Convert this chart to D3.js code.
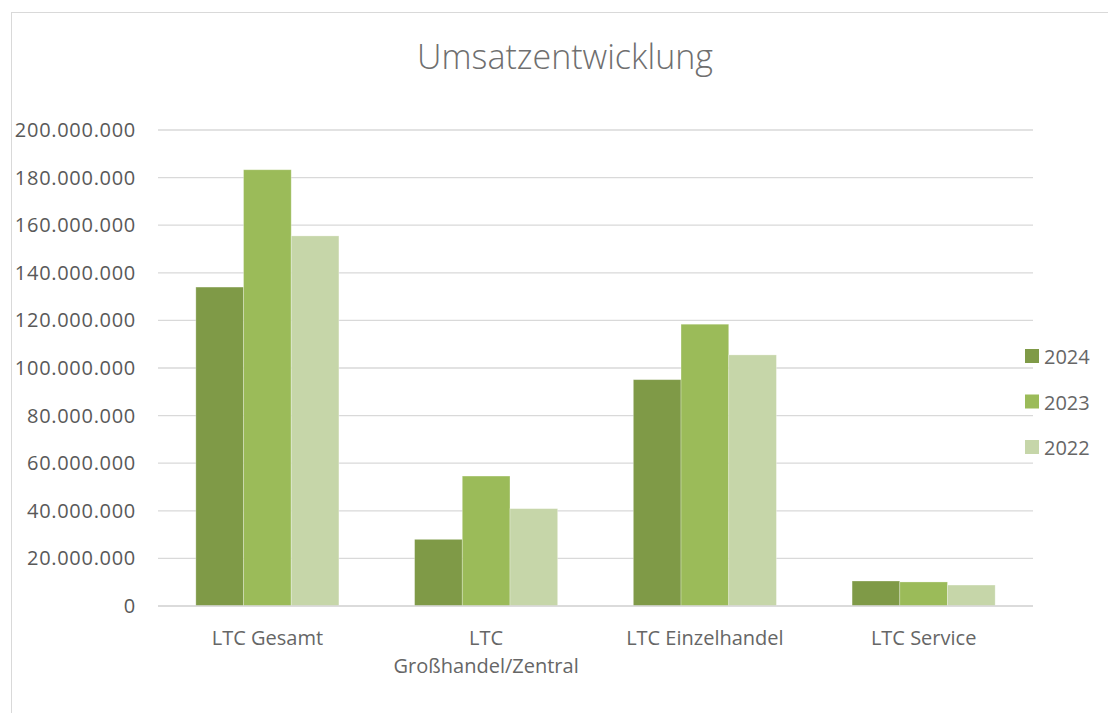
<!DOCTYPE html>
<html>
<head>
<meta charset="utf-8">
<script src="https://cdn.jsdelivr.net/npm/d3@7"></script>
<style>
  body { margin: 0; background: #fff; }
  text { font-family: "Open Sans", sans-serif; fill: #595959; }
</style>
</head>
<body>
<div class="chart"></div>
<script>
var svgWidth = 1108;
var svgHeight = 713;

// data
var categories = [["LTC Gesamt"], ["LTC", "Großhandel/Zentral"], ["LTC Einzelhandel"], ["LTC Service"]];
var years = ["2024", "2023", "2022"];
var values2024 = [134000000, 28000000, 95100000, 10500000];
var values2023 = [183300000, 54600000, 118400000, 10100000];
var values2022 = [155500000, 40900000, 105500000, 8800000];
var yTicks = [0, 20000000, 40000000, 60000000, 80000000, 100000000, 120000000, 140000000, 160000000, 180000000, 200000000];

var colors = {"2024": "#7f9a47", "2023": "#9bbb59", "2022": "#c6d6a9"};
var series = {"2024": values2024, "2023": values2023, "2022": values2022};

var margin = {top: 130, right: 75, bottom: 107, left: 158};
var width = svgWidth - margin.left - margin.right;
var height = svgHeight - margin.top - margin.bottom;

var svg = d3.select(".chart")
  .append("svg")
  .attr("width", svgWidth)
  .attr("height", svgHeight);

// chart frame
svg.append("rect")
  .attr("x", 11.5).attr("y", 12.5)
  .attr("width", 1120).attr("height", 720)
  .attr("fill", "none")
  .attr("stroke", "#d9d9d9");

svg.append("text")
  .attr("x", 565).attr("y", 69)
  .attr("text-anchor", "middle")
  .style("font-size", "34px")
  .style("font-weight", 300)
  .style("fill", "#6f6f6f")
  .text("Umsatzentwicklung");

var chartGroup = svg.append("g")
  .attr("transform", `translate(${margin.left}, ${margin.top})`);

var x0 = d3.scaleBand()
  .domain(d3.range(categories.length))
  .range([0, width])
  .paddingInner(0.346)
  .paddingOuter(0.173);

var x1 = d3.scaleBand()
  .domain(years)
  .range([0, x0.bandwidth()]);

var y = d3.scaleLinear()
  .domain([0, 200000000])
  .range([height, 0]);

var fmt = d3.formatLocale({decimal: ",", thousands: ".", grouping: [3], currency: ["", "€"]}).format(",d");

// gridlines
chartGroup.selectAll(".grid")
  .data(yTicks)
  .enter()
  .append("line")
  .attr("x1", 0).attr("x2", width)
  .attr("y1", d => y(d)).attr("y2", d => y(d))
  .attr("stroke", "#d9d9d9")
  .attr("stroke-width", 1.3);

// y axis labels
var leftAxis = d3.axisLeft(y).tickValues(yTicks).tickFormat(fmt).tickSize(0).tickPadding(22);
var yAxis = chartGroup.append("g").call(leftAxis);
yAxis.select(".domain").remove();
yAxis.selectAll("text")
  .style("font-size", "20px")
  .style("letter-spacing", "0.7px")
  .style("font-family", "'Open Sans', sans-serif")
  .attr("fill", "#666");

// bars
var groups = chartGroup.selectAll(".cat")
  .data(categories.map((c, i) => i))
  .enter()
  .append("g")
  .attr("transform", d => `translate(${x0(d)}, 0)`);

groups.selectAll("rect")
  .data(i => years.map(yr => ({year: yr, value: series[yr][i]})))
  .enter()
  .append("rect")
  .attr("x", d => x1(d.year))
  .attr("y", d => y(d.value))
  .attr("width", x1.bandwidth())
  .attr("height", d => height - y(d.value))
  .attr("fill", d => colors[d.year])
  .attr("stroke", "#fff")
  .attr("stroke-opacity", 0.35)
  .attr("stroke-width", 0.8);

// baseline
chartGroup.append("line")
  .attr("x1", 0).attr("x2", width)
  .attr("y1", height).attr("y2", height)
  .attr("stroke", "#d9d9d9")
  .attr("stroke-width", 1.5);

// category labels
groups.each(function(i) {
  var t = d3.select(this).append("text")
    .attr("text-anchor", "middle")
    .style("font-size", "20px")
    .style("fill", "#666")
    .attr("y", height + 39);
  categories[i].forEach(function(line, k) {
    t.append("tspan")
      .attr("x", x0.bandwidth() / 2)
      .attr("dy", k === 0 ? 0 : 28)
      .text(line);
  });
});

// legend
var legend = svg.selectAll(".legend")
  .data(years)
  .enter()
  .append("g")
  .attr("transform", (d, i) => `translate(1025, ${349 + i * 45.5})`);

legend.append("rect")
  .attr("width", 14).attr("height", 14)
  .attr("fill", d => colors[d]);

legend.append("text")
  .attr("x", 19).attr("y", 15)
  .style("font-size", "20px")
  .style("fill", "#666")
  .text(d => d);
</script>
</body>
</html>
